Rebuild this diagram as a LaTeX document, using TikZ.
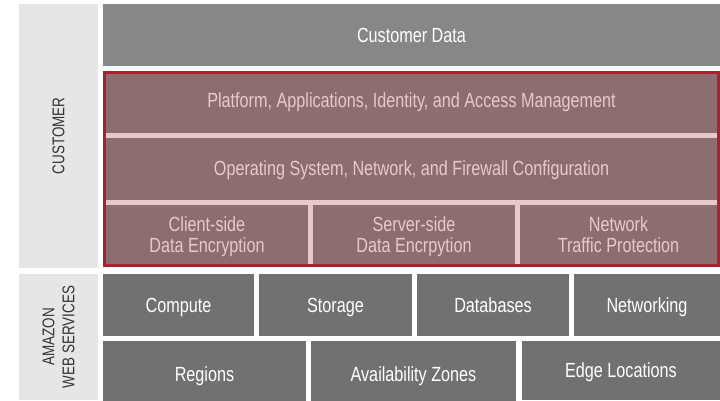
\documentclass[tikz,border=0pt]{standalone}
\usepackage{fontspec}
\setmainfont{Liberation Sans}[FakeStretch=0.79]
\definecolor{sidegray}{HTML}{E6E6E6}
\definecolor{datagray}{HTML}{878787}
\definecolor{awsgray}{HTML}{717171}
\definecolor{custbrown}{HTML}{8D6E70}
\definecolor{custpink}{HTML}{E9C8CB}
\definecolor{custred}{HTML}{B01F30}
\tikzset{
	blk/.style = {
		shape=rectangle,
		inner sep=0pt,
		outer sep=0pt,
		anchor=north west,
		align=center,
		font=\fontsize{20.5}{21}\selectfont
	},
	oneline/.style = {text height=14.7pt, text depth=0pt},
	twoline/.style = {text height=35.7pt, text depth=0pt},
	datablk/.style = {blk, oneline, fill=datagray, text=white},
	awsblk/.style = {blk, oneline, fill=awsgray, text=white},
	custblk/.style = {blk, fill=custbrown, text=custpink},
	sidelbl/.style = {
		shape=rectangle,
		inner sep=0pt,
		align=center,
		rotate=90,
		fill=sidegray,
		text=black!80,
		minimum height=79pt,
		font=\fontsize{17}{20}\selectfont
	}
}

\begin{document}
\begin{tikzpicture}[x=1pt, y=-1pt]
		\useasboundingbox (0,0) rectangle (720,400);
		% side labels
		\node[sidelbl, minimum width=264pt] (customer) at (58.5,136) {CUSTOMER};
		\node[sidelbl, minimum width=126pt] (amazon) at (58.5,337) {AMAZON\\WEB SERVICES};
		% customer layers
		\node[datablk, minimum width=617pt, minimum height=62pt] (data) at (103,4) {Customer Data};
		\node[blk, draw=custred, line width=3pt, fill=custpink,
			minimum width=614pt, minimum height=193pt] (secure) at (104.5,72.5) {};
		\node[custblk, oneline, text depth=7pt, minimum width=611pt, minimum height=59pt] (platform) at (106,74)
			{Platform, Applications, Identity, and Access Management};
		\node[custblk, oneline, text depth=2pt, minimum width=611pt, minimum height=62pt] (os) at (106,138)
			{Operating System, Network, and Firewall Configuration};
		\node[custblk, twoline, minimum width=202pt, minimum height=59pt] (client) at (106,205)
			{Client-side\\Data Encryption};
		\node[custblk, twoline, minimum width=202pt, minimum height=59pt] (server) at (313,205)
			{Server-side\\Data Encrpytion};
		\node[custblk, twoline, minimum width=197pt, minimum height=59pt] (traffic) at (520,205)
			{Network\\Traffic Protection};
		% aws services
		\node[awsblk, minimum width=151pt, minimum height=62pt] (compute) at (103,274) {Compute};
		\node[awsblk, minimum width=153pt, minimum height=62pt] (storage) at (259,274) {Storage};
		\node[awsblk, minimum width=152pt, minimum height=62pt] (databases) at (417,274) {Databases};
		\node[awsblk, minimum width=146pt, minimum height=62pt] (networking) at (574,274) {Networking};
		\node[awsblk, minimum width=203pt, minimum height=66pt] (regions) at (103,341) {Regions};
		\node[awsblk, minimum width=205pt, minimum height=66pt] (zones) at (311,341) {Availability Zones};
		\node[awsblk, minimum width=198pt, minimum height=59pt] (edge) at (522,341) {Edge Locations};
\end{tikzpicture}
\end{document}
